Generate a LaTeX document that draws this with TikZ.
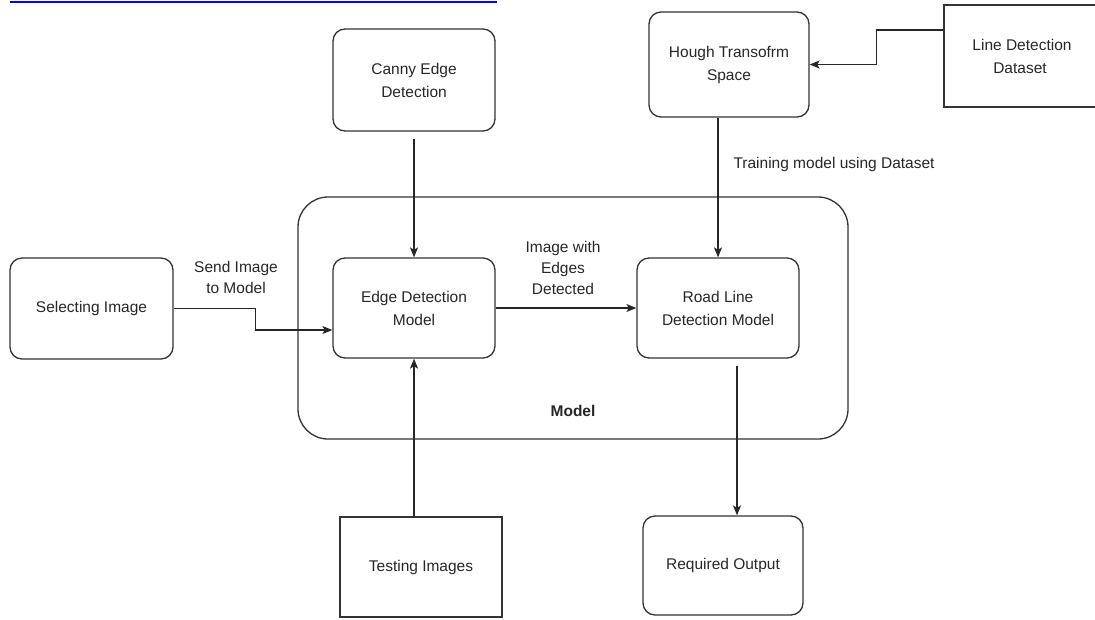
\documentclass[tikz,border=0pt]{standalone}
\usepackage{fontspec}
\setmainfont{Liberation Sans}
\usetikzlibrary{arrows.meta}
\begin{document}
\begin{tikzpicture}[x=1pt,y=-1pt,
  txt/.style={font=\fontsize{15.5}{23}\selectfont, text=black!85, align=center},
  rbox/.style={txt, draw=black!80, line width=1.3pt, rounded corners=12pt, inner sep=0pt},
  sbox/.style={txt, draw=black!80, line width=1.3pt, inner sep=0pt},
  conn/.style={draw=black!85, line width=1.3pt, -{Stealth[length=10pt,width=8pt,inset=2.5pt]}},
  lbl/.style={txt, font=\fontsize{15.5}{21}\selectfont}]
\path[use as bounding box] (0,0) rectangle (1095,619);
\draw[blue, line width=2.2pt] (10,2.2) -- (497,2.2);

% container
\node[rbox, rounded corners=30pt, minimum width=550pt, minimum height=242pt] (model) at (573,318) {};
\node[txt, font=\fontsize{15.5}{20.5}\selectfont\bfseries] (modellbl) at (573,411) {Model};

\node[rbox, minimum width=162pt, minimum height=102pt] (canny) at (414,80) {Canny Edge\\Detection};
\node[rbox, minimum width=160pt, minimum height=105pt] (hough) at (729,64.5) {Hough Transofrm\\Space};
\node[sbox, minimum width=156pt, minimum height=102pt] (data) at (1022,56) {Line Detection\\Dataset\hspace*{4pt}};
\node[rbox, minimum width=163pt, minimum height=101pt] (sel) at (91.5,308.5) {Selecting Image};
\node[rbox, minimum width=162pt, minimum height=100pt] (edge) at (414,308) {Edge Detection\\Model};
\node[rbox, minimum width=162pt, minimum height=100pt] (road) at (718,308) {Road Line\\Detection Model};
\node[sbox, minimum width=162pt, minimum height=100pt] (test) at (421,567) {\raisebox{-4pt}{Testing Images}};
\node[rbox, minimum width=160pt, minimum height=99pt] (req) at (723,565.5) {\raisebox{-2pt}{Required Output}};

% connectors
\draw[conn] ([yshift=-7pt]canny.south) -- (edge.north);
\draw[conn] (road.north |- hough.south) -- (road.north);
\draw[conn] ([yshift=26pt]data.west) -- ++(-67,0) |- (hough.east);
\draw[conn] (sel.east) -- ++(82,0) |- ([yshift=-22pt]edge.west);
\draw[conn] (edge.east) -- (road.west);
\draw[conn] (edge.south |- test.north) -- (edge.south);
\coordinate (rs) at ([xshift=19pt,yshift=-7pt]road.south);
\draw[conn] (rs) -- (rs |- req.north);

% labels
\node[lbl] (l1) at (236,277) {Send Image\\to Model};
\node[lbl] (l2) at (563,268) {Image with\\Edges\\Detected};
\node[lbl, anchor=west] (l3) at (730,164) {Training model using Dataset};
\end{tikzpicture}
\end{document}
